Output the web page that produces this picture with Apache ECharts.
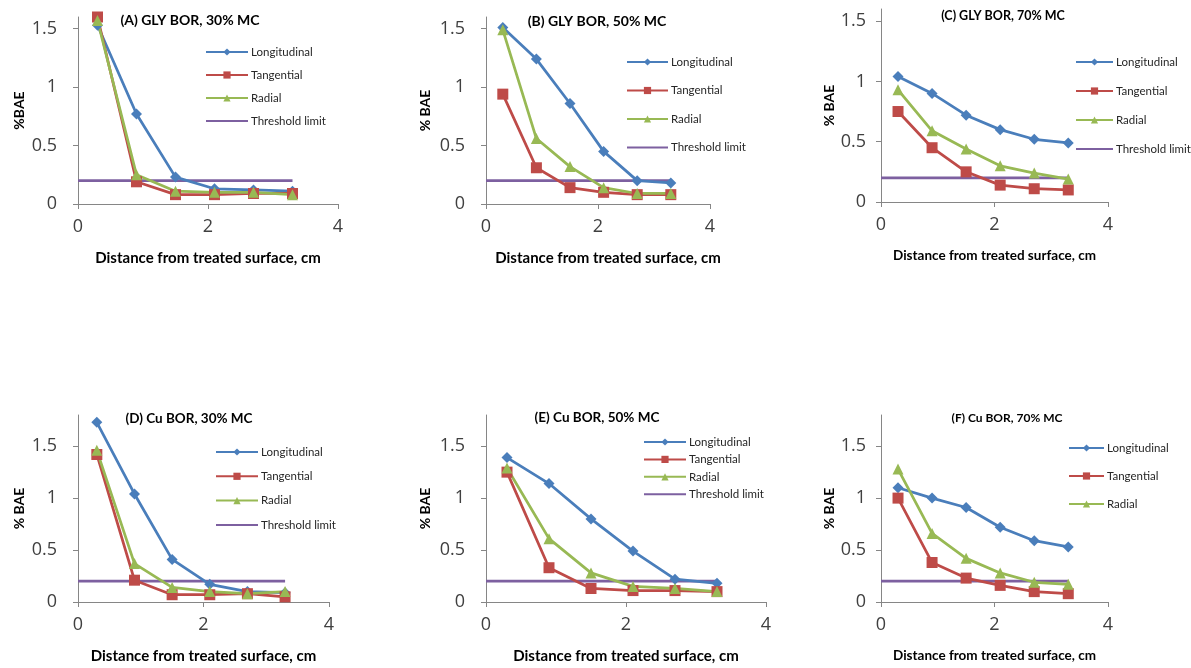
<!DOCTYPE html>
<html>
<head>
<meta charset="utf-8">
<title>%BAE vs distance from treated surface</title>
<script src="https://cdn.jsdelivr.net/npm/echarts@6/dist/echarts.min.js"></script>
<style>
  html, body { margin: 0; padding: 0; background: #ffffff; }
  #chart { width: 1191px; height: 668px; }
</style>
</head>
<body>
<div id="chart"></div>
<script>
// Sampling depths (cm from the treated surface)
const distance = [0.3, 0.9, 1.5, 2.1, 2.7, 3.3];
const thresholdX = [0, 3.3];
const thresholdLimit = 0.2;
const xTicks = [0, 2, 4];
const yTicks = [0, 0.5, 1, 1.5];

const panelTitles = [
  '(A) GLY BOR, 30% MC', '(B) GLY BOR, 50% MC', '(C) GLY BOR, 70% MC',
  '(D) Cu BOR, 30% MC', '(E) Cu BOR, 50% MC', '(F) Cu BOR, 70% MC'
];
const yNames = ['%BAE', '% BAE', '% BAE', '% BAE', '% BAE', '% BAE'];
const xName = 'Distance from treated surface, cm';

// %BAE per direction, one array per panel
const longA = [1.53, 0.77, 0.23, 0.13, 0.12, 0.11];
const tangA = [1.60, 0.19, 0.08, 0.08, 0.09, 0.09];
const radA  = [1.57, 0.25, 0.11, 0.10, 0.10, 0.08];

const longB = [1.51, 1.24, 0.86, 0.45, 0.20, 0.18];
const tangB = [0.94, 0.31, 0.14, 0.10, 0.08, 0.08];
const radB  = [1.49, 0.56, 0.32, 0.14, 0.09, 0.09];

const longC = [1.04, 0.90, 0.72, 0.60, 0.52, 0.49];
const tangC = [0.75, 0.45, 0.25, 0.14, 0.11, 0.10];
const radC  = [0.93, 0.59, 0.44, 0.30, 0.24, 0.19];

const longD = [1.73, 1.04, 0.41, 0.17, 0.10, 0.09];
const tangD = [1.42, 0.21, 0.07, 0.07, 0.08, 0.05];
const radD  = [1.46, 0.37, 0.14, 0.10, 0.08, 0.10];

const longE = [1.39, 1.14, 0.80, 0.49, 0.22, 0.18];
const tangE = [1.25, 0.33, 0.13, 0.11, 0.11, 0.10];
const radE  = [1.29, 0.61, 0.28, 0.15, 0.13, 0.10];

const longF = [1.10, 1.00, 0.91, 0.72, 0.59, 0.53];
const tangF = [1.00, 0.38, 0.23, 0.16, 0.10, 0.08];
const radF  = [1.28, 0.66, 0.42, 0.28, 0.19, 0.17];

const longitudinal = [longA, longB, longC, longD, longE, longF];
const tangential   = [tangA, tangB, tangC, tangD, tangE, tangF];
const radial       = [radA, radB, radC, radD, radE, radF];
const yMax = [1.6, 1.6, 1.6, 1.8, 1.8, 1.8];
const showThresholdInLegend = [true, true, true, true, true, false];

// Panel layout
const grids = [
  { left: 78,  top: 17,  width: 260, height: 187 },
  { left: 486, top: 17,  width: 224, height: 187 },
  { left: 881, top: 9,   width: 227, height: 193 },
  { left: 78,  top: 415, width: 251, height: 187 },
  { left: 486, top: 415, width: 280, height: 187 },
  { left: 881, top: 415, width: 227, height: 187 }
];
const LEGEND_ITEM_H = 9;
const legendPos = [
  { left: 205,  top: 46,  itemWidth: 42, itemGap: 11 },
  { left: 626,  top: 56,  itemWidth: 41, itemGap: 16.5 },
  { left: 1075, top: 56,  itemWidth: 37, itemGap: 17 },
  { left: 215,  top: 446, itemWidth: 42, itemGap: 12.3 },
  { left: 643,  top: 436, itemWidth: 42, itemGap: 5.4 },
  { left: 1068, top: 442, itemWidth: 35, itemGap: 16 }
];
const titlePos = [
  { x: 190, y: 20, size: 14 }, { x: 597, y: 21, size: 14 }, { x: 1003, y: 16, size: 12.5 },
  { x: 189, y: 419, size: 13.5 }, { x: 597, y: 418, size: 13.5 }, { x: 1007, y: 418, size: 12 }
];
const yNameGap = [52, 54, 45, 52, 54, 45];
const yLabelMargin = [21, 21, 15, 21, 21, 15];
const xNamePad = [0, 20, 0, 0, 0, 0];
const xNameSize = [15, 15, 13.5, 15, 15, 13.5];

const COLORS = { long: '#4A7EBB', tang: '#BE4B48', rad: '#98B954', thr: '#7D60A0' };
const AXIS_COLOR = '#868686';
const FONT = 'Lato, "Open Sans", sans-serif';

const pairs = (xs, ys) => xs.map((x, i) => [x, ys[i]]);

const xAxes = [], yAxes = [], series = [], legends = [], graphics = [];

grids.forEach((g, i) => {
  xAxes.push({
    gridIndex: i, type: 'value', min: 0, max: 4, interval: 2,
    name: xName, nameLocation: 'middle', nameGap: 47,
    nameTextStyle: { fontFamily: FONT, fontWeight: 'bold', fontSize: xNameSize[i], color: '#000', padding: [0, 0, 0, xNamePad[i]] },
    axisLine: { lineStyle: { color: AXIS_COLOR, width: 1 } },
    axisTick: { show: true, inside: false, length: 5, lineStyle: { color: AXIS_COLOR }, customValues: xTicks },
    axisLabel: { fontFamily: '"Open Sans", sans-serif', fontSize: 18, color: '#404040', margin: 14, customValues: xTicks },
    splitLine: { show: false }
  });
  yAxes.push({
    gridIndex: i, type: 'value', min: 0, max: yMax[i], interval: 0.5,
    name: yNames[i], nameLocation: 'middle', nameGap: yNameGap[i], nameRotate: 90,
    nameTextStyle: { fontFamily: FONT, fontWeight: 'bold', fontSize: 14, color: '#000' },
    axisLine: { show: true, lineStyle: { color: AXIS_COLOR, width: 1 } },
    axisTick: { show: true, inside: false, length: 5, lineStyle: { color: AXIS_COLOR }, customValues: yTicks },
    axisLabel: { fontFamily: '"Open Sans", sans-serif', fontSize: 18, color: '#404040', margin: yLabelMargin[i], customValues: yTicks },
    splitLine: { show: false }
  });

  const common = { type: 'line', xAxisIndex: i, yAxisIndex: i, z: 3, animation: false };
  series.push({
    ...common, name: 'Longitudinal', data: pairs(distance, longitudinal[i]),
    symbol: 'diamond', symbolSize: 11, color: COLORS.long,
    lineStyle: { width: 2.75, color: COLORS.long }, itemStyle: { color: COLORS.long }
  });
  series.push({
    ...common, name: 'Tangential', data: pairs(distance, tangential[i]),
    symbol: 'rect', symbolSize: 11, color: COLORS.tang,
    lineStyle: { width: 2.75, color: COLORS.tang }, itemStyle: { color: COLORS.tang }
  });
  series.push({
    ...common, name: 'Radial', data: pairs(distance, radial[i]),
    symbol: 'triangle', symbolSize: 11, color: COLORS.rad,
    lineStyle: { width: 2.75, color: COLORS.rad }, itemStyle: { color: COLORS.rad }
  });
  series.push({
    ...common, name: 'Threshold limit', data: thresholdX.map(x => [x, thresholdLimit]),
    symbol: 'none', color: COLORS.thr, z: 2,
    lineStyle: { width: 2.75, color: COLORS.thr }, itemStyle: { color: COLORS.thr }
  });

  const lp = legendPos[i];
  const names = ['Longitudinal', 'Tangential', 'Radial'];
  const items = names.map(n => ({ name: n }));
  // threshold entry is a plain line, no marker
  if (showThresholdInLegend[i]) items.push({ name: 'Threshold limit', itemStyle: { opacity: 0 } });
  legends.push({
    orient: 'vertical', left: lp.left, top: lp.top,
    itemWidth: lp.itemWidth, itemHeight: LEGEND_ITEM_H, itemGap: lp.itemGap,
    padding: 0, selectedMode: false, data: items,
    textStyle: { fontFamily: FONT, fontSize: 11.5, color: '#262626', padding: [0, 0, 0, -2] }
  });

  const t = titlePos[i];
  graphics.push({
    type: 'text', x: t.x, y: t.y,
    style: { text: panelTitles[i], fontFamily: FONT, fontWeight: 'bold', fontSize: t.size, fill: '#000', align: 'center', verticalAlign: 'middle' }
  });
});

const chart = echarts.init(document.getElementById('chart'), null, { renderer: 'canvas' });
chart.setOption({
  backgroundColor: '#ffffff',
  animation: false,
  grid: grids,
  xAxis: xAxes,
  yAxis: yAxes,
  legend: legends,
  series: series,
  graphic: graphics
});
</script>
</body>
</html>
